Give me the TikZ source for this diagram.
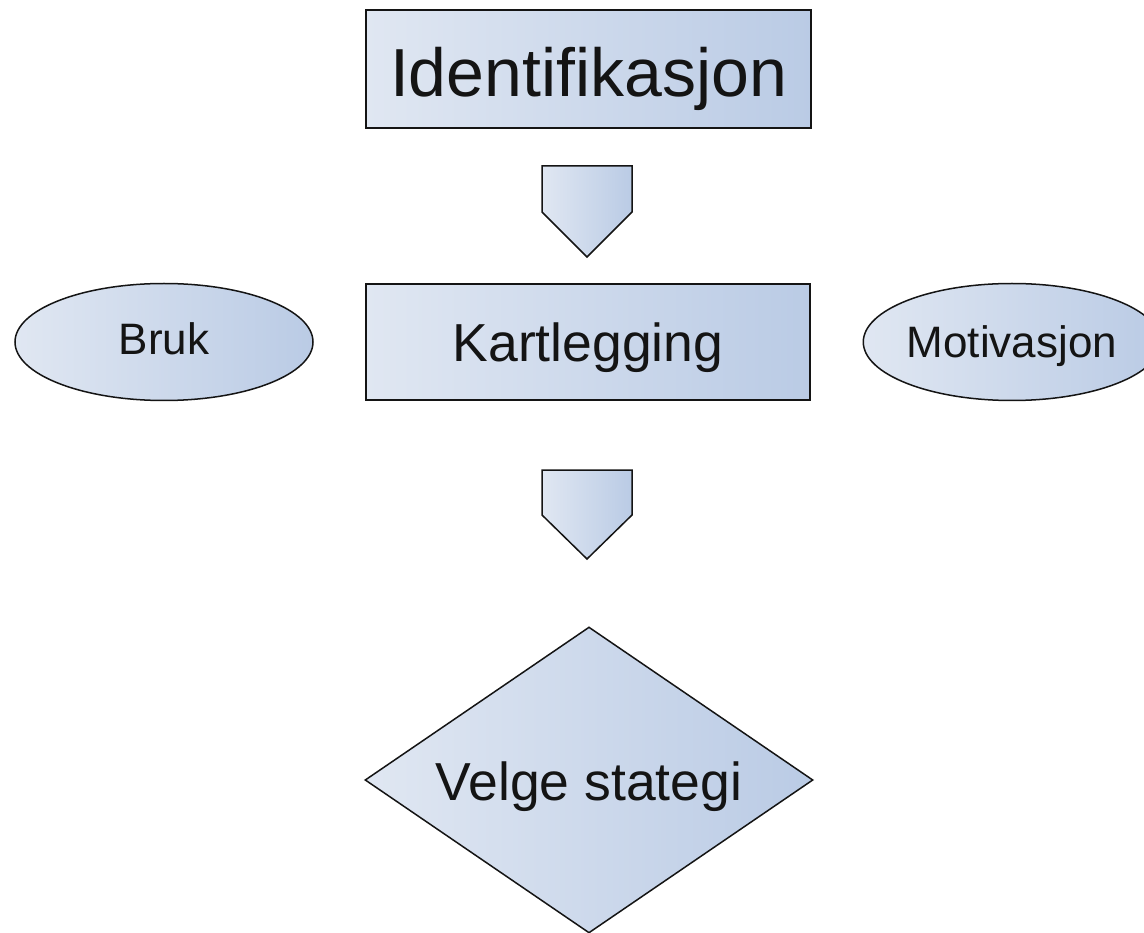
\documentclass[tikz,border=0pt]{standalone}
\usepackage{fontspec}
\setmainfont{Liberation Sans}
\usetikzlibrary{shapes.geometric}
\definecolor{fillL}{HTML}{E0E7F2}
\definecolor{fillR}{HTML}{BACBE5}
\definecolor{ink}{HTML}{141414}
\begin{document}
\begin{tikzpicture}[x=1pt,y=-1pt,
  shaded/.style={left color=fillL,right color=fillR,draw=ink,line width=1.5pt},
  box/.style={shaded,rectangle,inner sep=0pt,text=ink,text depth=0pt},
  oval/.style={shaded,ellipse,inner sep=0pt,text=ink,text depth=0pt,font=\fontsize{44}{52}\selectfont},
  choice/.style={shaded,diamond,inner sep=0pt,text=ink,text depth=0pt,aspect=1.464}]
\useasboundingbox (0,0) rectangle (1144,933);
\fill[white] (0,0) rectangle (1144,933);
\begin{scope}
\clip (0,0) rectangle (1144,933);
\node[box,minimum width=445pt,minimum height=118pt,text height=56pt,font=\fontsize{68}{80}\selectfont] (ident) at (588.5,69) {Identifikasjon};
\node[box,minimum width=444pt,minimum height=116pt,text height=40pt,font=\fontsize{53.5}{62}\selectfont] (kart) at (588,342) {Kartlegging};
\node[oval,minimum width=298pt,minimum height=117pt,text height=26pt] (bruk) at (164,342) {Bruk};
\node[oval,minimum width=270pt,minimum height=117pt,text height=32pt] (motiv) at (1012,342) {Motivasjon};
\node[choice,minimum width=448pt,minimum height=306pt,text height=40pt,font=\fontsize{53.5}{62}\selectfont] (velge) at (589,780) {Velge stategi};
\path[shaded,line join=miter] (542,166) -- (632,166) -- (632,212) -- (587,257) -- (542,212) -- cycle;
\path[shaded,line join=miter] (542,470) -- (632,470) -- (632,515) -- (587,559) -- (542,515) -- cycle;
\end{scope}
\end{tikzpicture}
\end{document}
